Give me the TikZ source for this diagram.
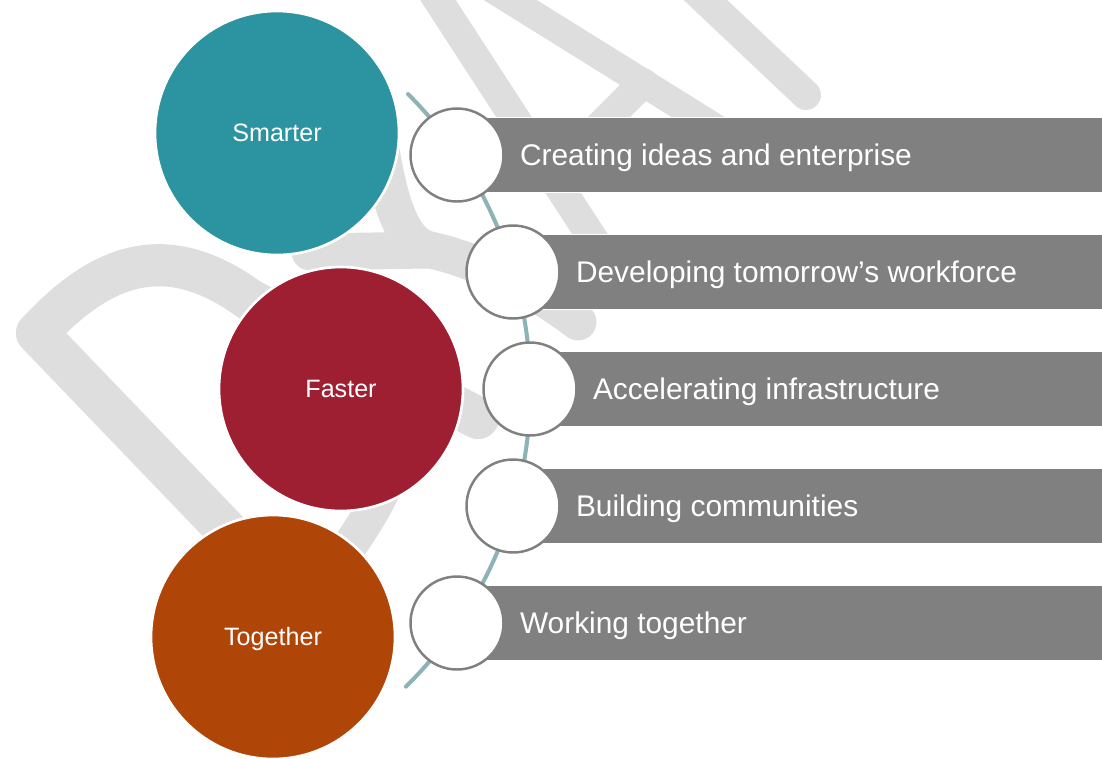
\documentclass[tikz,border=0pt]{standalone}
\usepackage{fontspec}
\setmainfont{Liberation Sans}
\usetikzlibrary{positioning}
\definecolor{smartteal}{RGB}{44,147,160}
\definecolor{fastred}{RGB}{158,31,49}
\definecolor{togetherorange}{RGB}{176,69,8}
\definecolor{bargray}{RGB}{128,128,128}
\definecolor{spineteal}{RGB}{141,179,185}
\definecolor{logogray}{RGB}{222,222,222}

\tikzset{
  themecircle/.style={circle, draw=white, line width=1.5pt, minimum size=4.88cm, inner sep=0pt,
    text=white, font=\fontsize{14.3}{17}\selectfont, text height=10.2pt, text depth=0pt},
  stepring/.style={circle, draw=bargray, line width=1.4pt, fill=white, minimum size=1.86cm, inner sep=0pt},
  barbox/.style={fill=bargray, draw=white, line width=0.8pt, minimum width=13cm, minimum height=1.5cm,
    inner sep=0pt, anchor=west},
  bartext/.style={text=white, font=\fontsize{17}{20}\selectfont, inner sep=0pt, anchor=west,
    text height=12.2pt, text depth=0pt},
  logoband/.style={draw=logogray, line cap=round, line join=round},
  spine/.style={draw=spineteal, line width=2.3pt, line cap=round}
}

\begin{document}
\begin{tikzpicture}[x=0.02cm, y=-0.02cm]
    \useasboundingbox (0,0) rectangle (1102,758);
    % faint logo in the back
    \begin{scope}
        \clip (0,0) rectangle (1102,758);
        \draw[logoband, line width=17pt] (412,-40) -- (610,265);
        \draw[logoband, line width=16pt] (446,-40) -- (735,140);
        \draw[logoband, line width=17pt] (643,83) -- (551,175);
        \draw[logoband, line width=17pt] (663,-40) -- (806,95);
        \draw[logoband, line width=24pt] (255,560) -- (37,333) .. controls (100,265) and (165,238) .. (250,300) -- (478,418);
        \draw[logoband, line width=21pt] (374,105) .. controls (385,180) and (395,243) .. (430,250) .. controls (470,258) and (530,285) .. (578,322);
        \draw[logoband, line width=21pt] (310,252) -- (430,250);
        \draw[logoband, line width=20pt] (400,430) .. controls (392,480) and (378,505) .. (340,560);
    \end{scope}

    % the three themes
    \node[themecircle, fill=smartteal] (smarter) at (277,133) {Smarter};
    \node[themecircle, fill=fastred] (faster) at (341,389) {Faster};
    \node[themecircle, fill=togetherorange] (together) at (273,637) {Together};

    % spine behind the rings
    \coordinate (spinetop) at (408,94);
    \draw[spine] (spinetop) arc[start angle=45, end angle=-45.4, radius=8.354cm];

    % rings with their bars
    \foreach \i/\x/\y/\txt in {1/457/155/Creating ideas and enterprise,
        2/513/272/Developing tomorrow’s workforce,
        3/530/389/Accelerating infrastructure,
        4/513/506/Building communities,
        5/457/623/Working together}
    {
        \node[barbox] (bar\i) at (\x,\y) {};
        \node[stepring] (ring\i) at (\x,\y) {};
        \node[bartext, right=0.3cm of ring\i] (item\i) {\txt};
    }
\end{tikzpicture}
\end{document}
